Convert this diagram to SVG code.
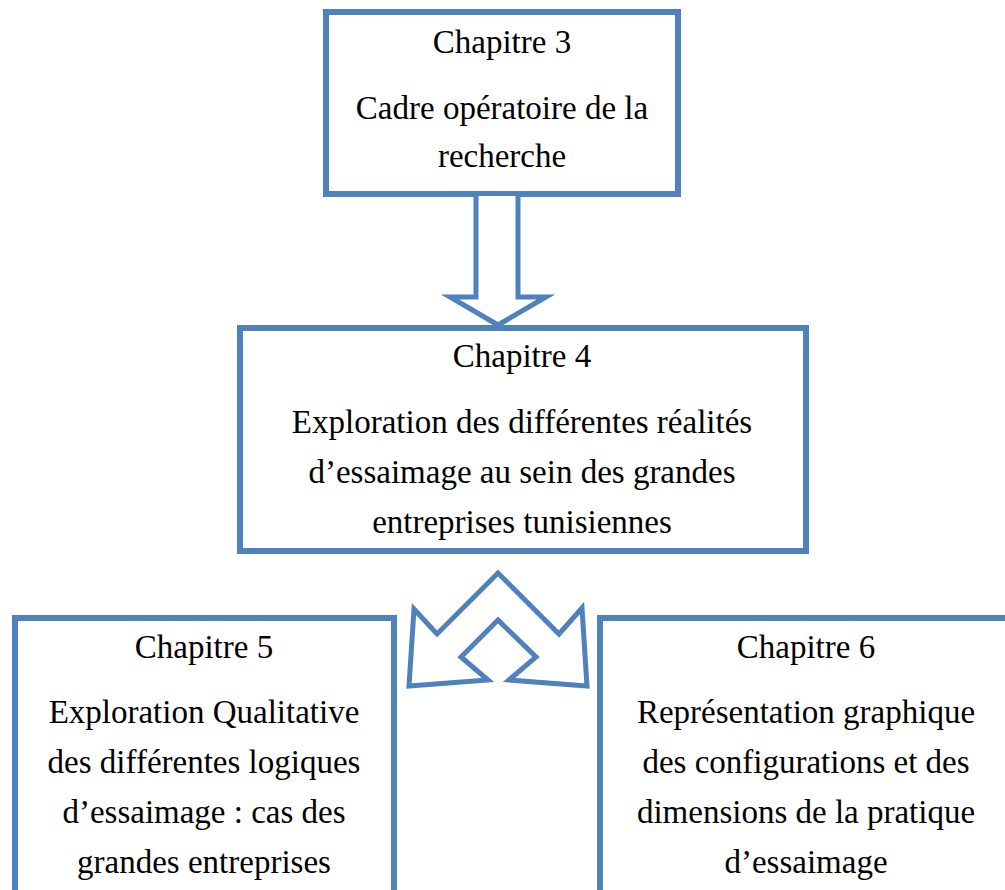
<svg xmlns="http://www.w3.org/2000/svg" width="1005" height="890" viewBox="0 0 1005 890">
  <style>
    .box { fill: #ffffff; stroke: #4f81bd; stroke-width: 6; }
    .arrow { fill: #ffffff; stroke: #4f81bd; stroke-width: 5; stroke-linejoin: miter; }
    .label { font-family: "Liberation Serif", "Times New Roman", serif; font-size: 33px; fill: #000000; text-anchor: middle; }
  </style>
  <rect width="1005" height="890" fill="#ffffff"/>

  <g id="chapitre3">
    <rect class="box" x="326" y="12" width="352" height="182"/>
    <text class="label" x="502" y="53">Chapitre 3</text>
    <text class="label" x="502" y="119">Cadre opératoire de la</text>
    <text class="label" x="502" y="167">recherche</text>
  </g>

  <g id="chapitre4">
    <rect class="box" x="240" y="328" width="566" height="223"/>
    <text class="label" x="522" y="367">Chapitre 4</text>
    <text class="label" x="522" y="433">Exploration des différentes réalités</text>
    <text class="label" x="522" y="483">d’essaimage au sein des grandes</text>
    <text class="label" x="522" y="533">entreprises tunisiennes</text>
  </g>

  <g id="chapitre5">
    <rect class="box" x="15" y="618" width="379" height="290"/>
    <text class="label" x="204" y="658">Chapitre 5</text>
    <text class="label" x="204" y="723">Exploration Qualitative</text>
    <text class="label" x="204" y="773">des différentes logiques</text>
    <text class="label" x="204" y="823">d’essaimage : cas des</text>
    <text class="label" x="204" y="873">grandes entreprises</text>
  </g>

  <g id="chapitre6">
    <rect class="box" x="600" y="618" width="430" height="290"/>
    <text class="label" x="806" y="658">Chapitre 6</text>
    <text class="label" x="806" y="723">Représentation graphique</text>
    <text class="label" x="806" y="773">des configurations et des</text>
    <text class="label" x="806" y="823">dimensions de la pratique</text>
    <text class="label" x="806" y="873">d’essaimage</text>
  </g>

  <g id="connectors">
    <!-- block arrow from chapter 3 down to chapter 4 -->
    <polyline class="arrow" points="476,196 476,297 450,297 498,325 546,297 518,297 518,196"/>
    <!-- split arrow from chapter 4 to chapters 5 and 6 -->
    <polygon class="arrow" points="498,573 437,634 414,609 409,686 488,680 461,657 498,620 536,657 509,680 587,686 582,608 559,634"/>
  </g>
</svg>
